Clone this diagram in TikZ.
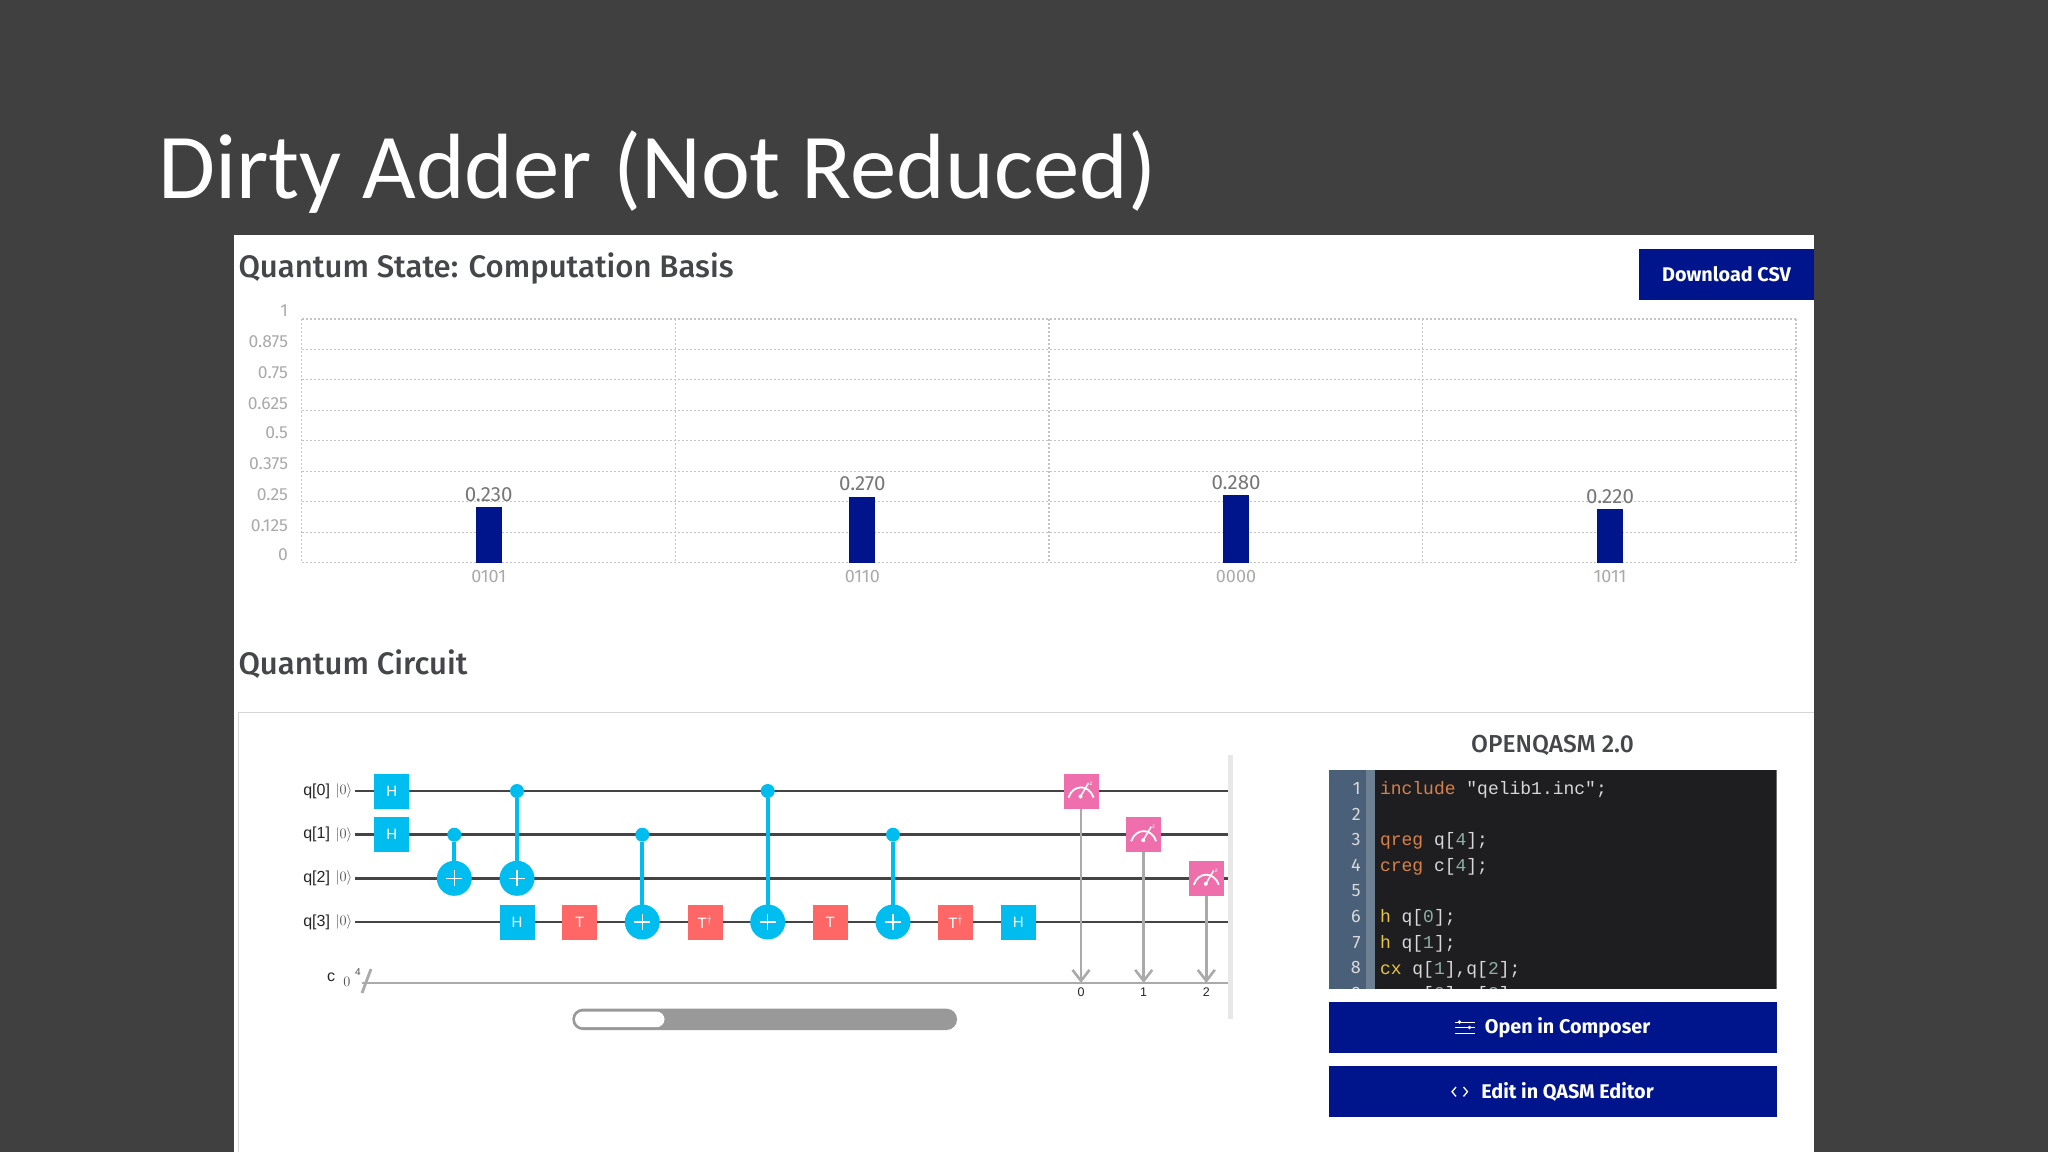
\documentclass[tikz,border=0pt]{standalone}
\usepackage{fontspec}
\setmainfont{Liberation Sans}
\newfontfamily\titlefont{Carlito}
\newfontfamily\uifont{Fira Sans}
\newfontfamily\headfont{Fira Sans Medium}
\newfontfamily\codefont{Liberation Mono}
\usetikzlibrary{arrows.meta}
\definecolor{slidebg}{HTML}{404040}
\definecolor{navy}{HTML}{00148C}
\definecolor{ink}{HTML}{444649}
\definecolor{axisgrey}{HTML}{AAAAAA}
\definecolor{valgrey}{HTML}{777777}
\definecolor{griddot}{HTML}{C4C4C4}
\definecolor{qblue}{HTML}{00BDEF}
\definecolor{tred}{HTML}{FF6666}
\definecolor{mpink}{HTML}{EE6FAB}
\definecolor{wire}{HTML}{444444}
\definecolor{cwire}{HTML}{AAAAAA}
\definecolor{codebg}{HTML}{1E1E20}
\definecolor{gutter}{HTML}{4A5F78}
\definecolor{gutterb}{HTML}{6D7F92}
\definecolor{kworange}{HTML}{D9814A}
\definecolor{kwyellow}{HTML}{E8C53A}
\definecolor{codetxt}{HTML}{D8D8D8}
\definecolor{codenum}{HTML}{8FAFA5}
\newcommand{\fs}[1]{\fontsize{#1}{#1}\selectfont}
\newcommand{\kwo}[1]{\textcolor{kworange}{#1}}
\newcommand{\kwy}[1]{\textcolor{kwyellow}{#1}}
\newcommand{\dg}[1]{\textcolor{codenum}{#1}}
\tikzset{
  x=1pt,y=-1pt,
  txt/.style={inner sep=0pt,outer sep=0pt},
  ytick/.style={txt,anchor=east,text=axisgrey,font=\uifont\fs{17.5}},
  xtick/.style={txt,text=axisgrey,font=\uifont\fs{18}},
  barval/.style={txt,text=valgrey,font=\uifont\fs{20.5}},
  heading/.style={txt,anchor=west,text=ink,font=\headfont\fs{31.1}},
  qlabel/.style={txt,anchor=east,text=black!85,font=\fs{16}},
  ket/.style={txt,text=black!70,font=\fs{15}},
  gridline/.style={griddot,line width=1.1pt,dash pattern=on 2pt off 2pt},
  bar/.style={fill=navy,draw=none,minimum width=26pt,inner sep=0pt,outer sep=0pt,anchor=south},
  gate/.style={minimum size=35pt,inner sep=0pt,outer sep=0pt,draw=none,text=white,font=\fs{15}},
  hgate/.style={gate,fill=qblue},
  tgate/.style={gate,fill=tred},
  mgate/.style={gate,fill=mpink},
  ctrl/.style={circle,fill=qblue,draw=none,minimum size=14pt,inner sep=0pt,outer sep=0pt},
  targ/.style={circle,fill=qblue,draw=none,minimum size=35pt,inner sep=0pt,outer sep=0pt,
    path picture={\draw[white,line width=1.5pt]
      ([xshift=-8pt]path picture bounding box.center) -- ([xshift=8pt]path picture bounding box.center)
      ([yshift=-8pt]path picture bounding box.center) -- ([yshift=8pt]path picture bounding box.center);}},
  qwire/.style={wire,line width=2.6pt},
  cwireline/.style={cwire,line width=2.6pt},
  ctl/.style={qblue,line width=4pt},
  meas/.style={cwire,line width=2.6pt,-{Straight Barb[length=11pt,width=17pt,line width=2.6pt]}},
  codeline/.style={txt,anchor=west,text=codetxt,font=\codefont\fs{18}},
  lineno/.style={txt,anchor=east,text=white!85!black,font=\uifont\fs{18}},
  navybtn/.style={fill=navy,draw=none,inner sep=0pt,outer sep=0pt},
  btntext/.style={txt,text=white,font=\uifont\bfseries\fs{19.8}},
  iconline/.style={white,line width=1pt},
}
\newcommand{\meter}[1]{%
  \draw[white,line width=1.8pt] ([shift={(-12.5,6.5)}]#1.center) .. controls ([shift={(-8,-7)}]#1.center) and ([shift={(8,-7)}]#1.center) .. ([shift={(12.5,6.5)}]#1.center);
  \draw[white,line width=1.5pt] ([shift={(-0.5,5.5)}]#1.center) -- ([shift={(7.5,-8)}]#1.center);
  \fill[white] ([shift={(-0.5,5.5)}]#1.center) circle[radius=2];
  \node[txt,text=white,font=\fs{6}] at ([shift={(10,-7.5)}]#1.center) {z};
}
\begin{document}
\begin{tikzpicture}
\useasboundingbox (0,0) rectangle (2048,1152);
\fill[slidebg] (0,0) rectangle (2048,1152);
\node[txt,anchor=west,text=white,font=\titlefont\fs{92.7}] (title) at (158,172) {Dirty Adder (Not Reduced)};
\fill[white] (234,235) rectangle (1814,1152);

% chart
\node[heading] (h1) at (238.5,268) {Quantum State: Computation Basis};
\node[navybtn,minimum width=175pt,minimum height=51pt,anchor=north west] (dl) at (1639,248.5) {};
\node[btntext] (dltxt) at (dl.center) {Download CSV};
\foreach \i in {0,...,8} \draw[gridline] (301.7,319+\i*30.46) -- (1796,319+\i*30.46);
\foreach \gx in {301.7,675.4,1049,1422.7,1796} \draw[gridline] (\gx,319) -- (\gx,562.7);
\node[ytick] (y0) at (288,311) {1};
\node[ytick] (y1) at (288,342) {0.875};
\node[ytick] (y2) at (288,373) {0.75};
\node[ytick] (y3) at (288,404) {0.625};
\node[ytick] (y4) at (288,433) {0.5};
\node[ytick] (y5) at (288,464) {0.375};
\node[ytick] (y6) at (288,495) {0.25};
\node[ytick] (y7) at (288,526) {0.125};
\node[ytick] (y8) at (288,555) {0};
\node[bar,minimum height=56pt] (b0) at (488.7,562.7) {};
\node[bar,minimum height=65.8pt] (b1) at (862.3,562.7) {};
\node[bar,minimum height=68.2pt] (b2) at (1236,562.7) {};
\node[bar,minimum height=53.6pt] (b3) at (1610,562.7) {};
\node[barval] (v0) at (488.7,495) {0.230};
\node[barval] (v1) at (862.3,484) {0.270};
\node[barval] (v2) at (1236,482.5) {0.280};
\node[barval] (v3) at (1610,496.5) {0.220};
\node[xtick] (x0) at (488.7,576) {0101};
\node[xtick] (x1) at (862.3,576) {0110};
\node[xtick] (x2) at (1236,576) {0000};
\node[xtick] (x3) at (1610,576) {1011};

% circuit panel
\node[heading] (h2) at (238.5,664.5) {Quantum Circuit};
\draw[griddot!70!white,line width=1pt] (238,1152) -- (238,712) -- (1814,712);
\fill[black!9] (1228,755) rectangle (1233,1019);

\coordinate (w0a) at (355,791);   \coordinate (w0b) at (1228,791);
\coordinate (w1a) at (355,834.7); \coordinate (w1b) at (1228,834.7);
\coordinate (w2a) at (355,878.3); \coordinate (w2b) at (1228,878.3);
\coordinate (w3a) at (355,922);   \coordinate (w3b) at (1228,922);
\coordinate (ca) at (362,983);    \coordinate (cb) at (1228,983);
\draw[qwire] (w0a) -- (w0b);
\draw[qwire] (w1a) -- (w1b);
\draw[qwire] (w2a) -- (w2b);
\draw[qwire] (w3a) -- (w3b);
\draw[cwireline] (ca) -- (cb);
\coordinate (sa) at (362,993); \coordinate (sb) at (371,969);
\draw[cwire,line width=2.8pt] (sa) -- (sb);

\node[qlabel] (q0) at (330,791) {q[0]};
\node[qlabel] (q1) at (330,834.5) {q[1]};
\node[qlabel] (q2) at (330,878.5) {q[2]};
\node[qlabel] (q3) at (330,922) {q[3]};
\node[ket] (k0) at (344,791) {$|0\rangle$};
\node[ket] (k1) at (344,835) {$|0\rangle$};
\node[ket] (k2) at (344,878) {$|0\rangle$};
\node[ket] (k3) at (344,922) {$|0\rangle$};
\node[txt,text=black!85,font=\fs{16}] (cl) at (331,977) {c};
\node[ket] (c0) at (347,982) {$0$};
\node[txt,text=black!70,font=\fs{10}] (c4) at (358,972) {4};

\node[hgate] (ha) at (391.7,791) {H};
\node[hgate] (hb) at (391.7,834.7) {H};
\node[ctrl] (c1) at (454.3,834.7) {};
\node[targ] (t1) at (454.3,878.3) {};
\node[ctrl] (c2) at (517,791) {};
\node[targ] (t2) at (517,878.3) {};
\node[hgate] (hc) at (517,922) {H};
\node[tgate] (ga) at (579.7,922) {T};
\node[ctrl] (c3) at (642.3,834.7) {};
\node[targ] (t3) at (642.3,922) {};
\node[tgate] (gb) at (705,922) {T$^\dagger$};
\node[ctrl] (c4a) at (767.7,791) {};
\node[targ] (t4) at (767.7,922) {};
\node[tgate] (gc) at (830.3,922) {T};
\node[ctrl] (c5) at (893,834.7) {};
\node[targ] (t5) at (893,922) {};
\node[tgate] (gd) at (955.7,922) {T$^\dagger$};
\node[hgate] (hd) at (1018.3,922) {H};
\draw[ctl] (c1) -- (t1);
\draw[ctl] (c2) -- (t2);
\draw[ctl] (c3) -- (t3);
\draw[ctl] (c4a) -- (t4);
\draw[ctl] (c5) -- (t5);

\node[mgate] (m0) at (1081,791) {};
\node[mgate] (m1) at (1143.7,834.7) {};
\node[mgate] (m2) at (1206.3,878.3) {};
\coordinate (r0) at (1081,983);
\coordinate (r1) at (1143.7,983);
\coordinate (r2) at (1206.3,983);
\draw[meas] (m0) -- (r0);
\draw[meas] (m1) -- (r1);
\draw[meas] (m2) -- (r2);
\meter{m0}\meter{m1}\meter{m2}
\node[txt,text=black!85,font=\fs{12.5}] (l0) at (1081,992.5) {0};
\node[txt,text=black!85,font=\fs{12.5}] (l1) at (1143.7,992.5) {1};
\node[txt,text=black!85,font=\fs{12.5}] (l2) at (1206.3,992.5) {2};

% scrollbar
\fill[black!40!white,rounded corners=10.5pt] (572.3,1008.7) rectangle (957,1030);
\fill[white,rounded corners=8pt] (575,1011.5) rectangle (664.5,1027.2);

% code
\node[txt,text=ink,font=\headfont\fs{24.5}] (oq) at (1552.5,745.5) {OPENQASM 2.0};
\begin{scope}
\clip (1329,769.7) rectangle (1776.7,988.7);
\fill[codebg] (1329,769.7) rectangle (1776.7,988.7);
\fill[gutter] (1329,769.7) rectangle (1366,988.7);
\fill[gutterb] (1366,769.7) rectangle (1375,988.7);
\node[lineno] (n1) at (1360.7,788.5) {1};
\node[lineno] (n2) at (1360.7,814) {2};
\node[lineno] (n3) at (1360.7,839.7) {3};
\node[lineno] (n4) at (1360.7,865.3) {4};
\node[lineno] (n5) at (1360.7,891) {5};
\node[lineno] (n6) at (1360.7,916.6) {6};
\node[lineno] (n7) at (1360.7,942.2) {7};
\node[lineno] (n8) at (1360.7,967.8) {8};
\node[lineno] (n9) at (1360.7,993.4) {9};
\node[codeline] (l1c) at (1380,789.5) {\kwo{include} "qelib1.inc";};
\node[codeline] (l3c) at (1380,841) {\kwo{qreg} q[\dg{4}];};
\node[codeline] (l4c) at (1380,867) {\kwo{creg} c[\dg{4}];};
\node[codeline] (l6c) at (1380,918) {\kwy{h} q[\dg{0}];};
\node[codeline] (l7c) at (1380,943.7) {\kwy{h} q[\dg{1}];};
\node[codeline] (l8c) at (1380,969.5) {\kwy{cx} q[\dg{1}],q[\dg{2}];};
\node[codeline] (l9c) at (1380,995) {\kwy{cx} q[\dg{0}],q[\dg{2}];};
\end{scope}

% buttons
\node[navybtn,minimum width=447.7pt,minimum height=51pt,anchor=north west] (b1btn) at (1329,1001.7) {};
\node[navybtn,minimum width=447.7pt,minimum height=51pt,anchor=north west] (b2btn) at (1329,1066) {};
\node[btntext] (b1t) at (1567.5,1028) {Open in Composer};
\node[btntext] (b2t) at (1567.5,1092) {Edit in QASM Editor};
\draw[iconline] (1455,1022) -- (1475,1022) (1455,1027.5) -- (1475,1027.5) (1455,1033) -- (1475,1033);
\fill[white] (1459.5,1022) circle[radius=1.8] (1469.5,1027.5) circle[radius=1.8];
\draw[white,line width=1.3pt] (1456,1087) -- (1452,1091.7) -- (1456,1096.4);
\draw[white,line width=1.3pt] (1463.5,1087) -- (1467.5,1091.7) -- (1463.5,1096.4);
\end{tikzpicture}
\end{document}
